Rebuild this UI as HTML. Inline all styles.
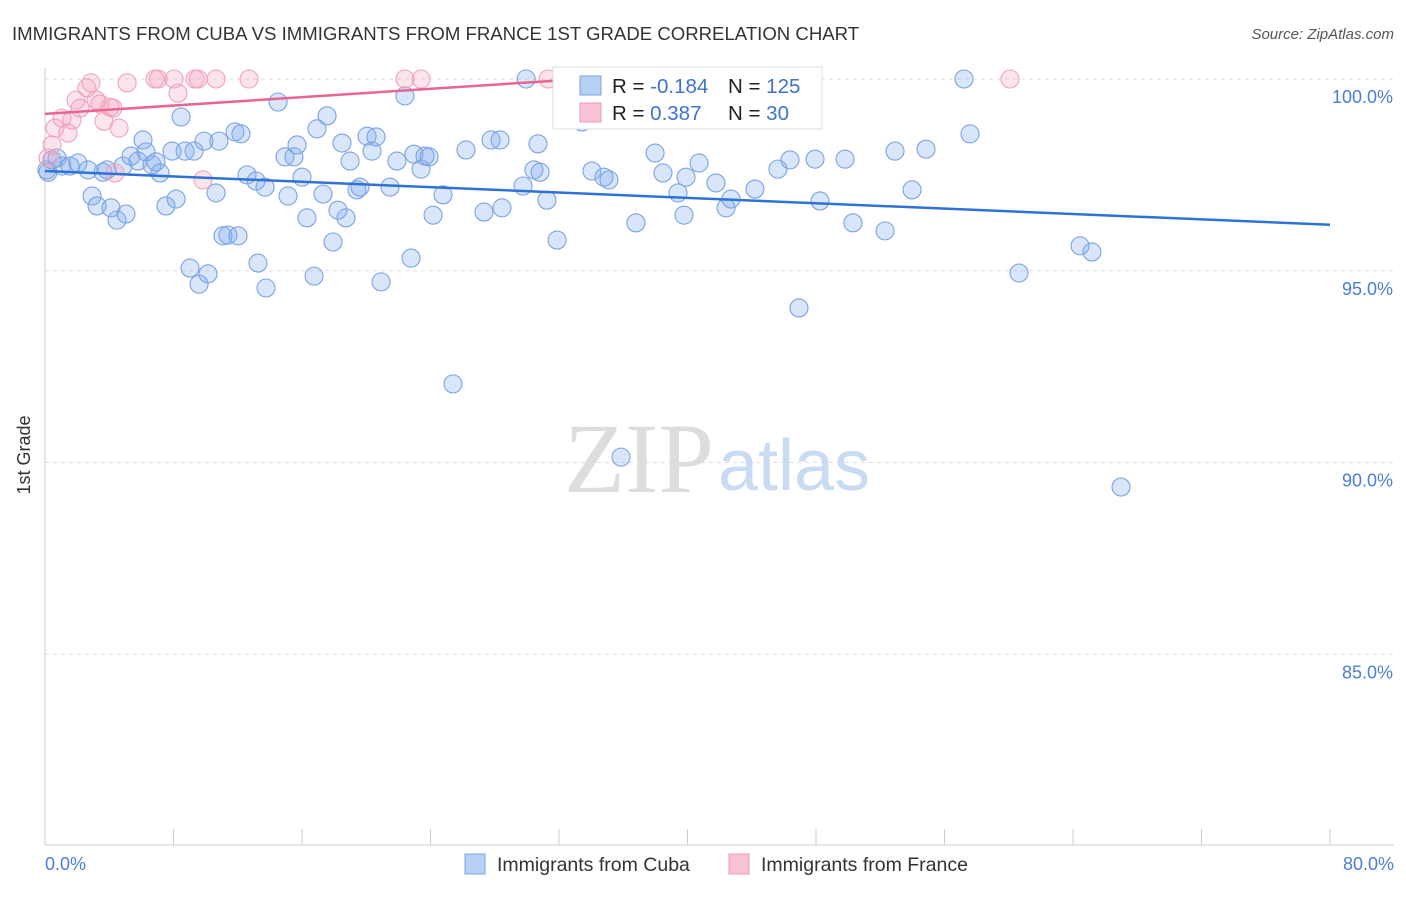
<!DOCTYPE html>
<html><head><meta charset="utf-8"><style>
body{margin:0;background:#fff;font-family:"Liberation Sans",sans-serif;}
svg text{font-family:"Liberation Sans",sans-serif;}
svg text.serif{font-family:"Liberation Serif",serif;}
</style></head><body>
<svg width="1406" height="892">
<text x="12" y="40" font-size="18.6" fill="#333">IMMIGRANTS FROM CUBA VS IMMIGRANTS FROM FRANCE 1ST GRADE CORRELATION CHART</text>
<text x="1394" y="39" font-size="15" fill="#555" text-anchor="end" font-style="italic">Source: ZipAtlas.com</text>
<g id="grid"></g>
<text class="serif" x="714" y="492" font-size="100" fill="#ddd" text-anchor="end">ZIP</text>
<text x="718" y="490" font-size="72" fill="#c9dbf2">atlas</text>
<g id="pts"></g>
<g id="lines"></g>
<text x="30" y="455" font-size="18" fill="#333" transform="rotate(-90 30 455)" text-anchor="middle">1st Grade</text>
<text x="45" y="870" font-size="18" fill="#4a7fd4">0.0%</text>
<text x="1394" y="870" font-size="18" fill="#4a7fd4" text-anchor="end">80.0%</text>
<g>
<rect x="553" y="67" width="269" height="62" fill="#fff" stroke="#ddd"/>
<rect x="580" y="76" width="21" height="19" fill="#b7cff2" stroke="#7aa3e0"/>
<rect x="580" y="103" width="21" height="19" fill="#f8c2d2" stroke="#ec9ab5"/>
<text x="612" y="93" font-size="20.5" fill="#222">R = <tspan fill="#3c73cf">-0.184</tspan></text>
<text x="728" y="93" font-size="20.5" fill="#222">N = <tspan fill="#3c73cf">125</tspan></text>
<text x="612" y="120" font-size="20.5" fill="#222">R = <tspan fill="#3c73cf"> 0.387</tspan></text>
<text x="728" y="120" font-size="20.5" fill="#222">N = <tspan fill="#3c73cf"> 30</tspan></text>
</g>
<g><rect x="465" y="854" width="20" height="20" fill="#b7cff2" stroke="#7aa3e0"/><text x="497" y="871" font-size="19.5" fill="#333">Immigrants from Cuba</text></g>
<g><rect x="729" y="854" width="20" height="20" fill="#f8c2d2" stroke="#ec9ab5"/><text x="761" y="871" font-size="19.5" fill="#333">Immigrants from France</text></g>
</svg>
<script>
const yTicks=[100,95,90,85];
const xTickVals=[0,8,16,24,32,40,48,56,64,72,80];
const cubaPx=[[48,172],[47,170],[52,160],[57,158],[62,166],[70,166],[78,163],[88,170],[92,196],[97,206],[103,172],[107,170],[111,208],[117,220],[123,166],[126,214],[131,156],[138,161],[143,140],[146,152],[152,165],[156,162],[160,173],[166,206],[172,151],[176,199],[181,117],[185,151],[190,268],[194,151],[199,284],[204,141],[208,274],[216,193],[219,141],[223,236],[228,235],[235,132],[238,236],[241,134],[247,175],[256,181],[258,263],[265,187],[266,288],[278,102],[285,157],[288,196],[294,157],[297,145],[302,177],[307,218],[314,276],[317,129],[323,194],[327,116],[333,242],[338,210],[342,143],[346,218],[350,161],[357,190],[360,187],[367,136],[372,151],[376,137],[381,282],[390,187],[397,161],[405,96],[411,258],[414,154],[421,169],[425,156],[429,157],[433,215],[443,195],[453,384],[466,150],[484,212],[491,140],[500,140],[502,208],[523,186],[526,79],[534,170],[538,144],[540,172],[547,200],[557,240],[582,122],[592,171],[604,177],[609,180],[621,457],[628,79],[636,223],[655,153],[663,173],[678,193],[684,215],[686,177],[699,163],[716,183],[726,208],[731,199],[755,189],[778,169],[790,160],[799,308],[815,159],[820,201],[845,159],[853,223],[885,231],[895,151],[912,190],[926,149],[964,79],[970,134],[1019,273],[1080,246],[1092,252],[1121,487]];
const francePx=[[48,158],[52,145],[55,128],[62,118],[68,133],[72,120],[76,100],[80,108],[87,88],[91,83],[96,100],[100,104],[104,121],[110,107],[113,108],[119,128],[115,173],[127,83],[155,79],[158,79],[174,79],[178,93],[195,79],[198,79],[203,180],[216,79],[249,79],[405,79],[421,79],[548,79],[1010,79]];
const cubaX=cubaPx.map(p=>+((p[0]-45)/1285*80).toFixed(2));
const cubaY=cubaPx.map(p=>+(100-(p[1]-79)/38.35).toFixed(2));
const franceX=francePx.map(p=>+((p[0]-45)/1285*80).toFixed(2));
const franceY=francePx.map(p=>+(100-(p[1]-79)/38.35).toFixed(2));
const cubaTrend=[97.6,96.2];
const franceTrend=[99.09,100,33.4];
const X=v=>45+v/80*1285, Y=v=>79+(100-v)*38.35;
const NS='http://www.w3.org/2000/svg';
function mk(t,a,par){const e=document.createElementNS(NS,t);for(const k in a)e.setAttribute(k,a[k]);document.getElementById(par).appendChild(e);return e;}
yTicks.forEach(v=>{const l=mk('line',{x1:45,x2:1394,y1:Y(v),y2:Y(v),stroke:'#ddd','stroke-dasharray':'4 4'},'grid');


const t=mk('text',{x:1393,y:Y(v)+24,'font-size':18,fill:'#4a7fd4','text-anchor':'end'},'grid');t.textContent=v.toFixed(1)+'%';

});
const ax=mk('line',{x1:45,x2:45,y1:68,y2:845,stroke:'#ccc'},'grid');


const bx=mk('line',{x1:45,x2:1394,y1:845,y2:845,stroke:'#ccc'},'grid');


xTickVals.forEach(v=>{const l=mk('line',{x1:X(v),x2:X(v),y1:829,y2:845,stroke:'#ccc'},'grid');

});
cubaX.forEach((x,i)=>{const c=mk('circle',{cx:X(x),cy:Y(cubaY[i]),r:9,fill:'rgba(130,172,238,0.3)',stroke:'#7aa3e2','stroke-width':1.1},'pts');

});
franceX.forEach((x,i)=>{const c=mk('circle',{cx:X(x),cy:Y(franceY[i]),r:9,fill:'rgba(245,165,190,0.3)',stroke:'#efa3bc','stroke-width':1.1},'pts');

});
const l1=mk('line',{x1:X(0),y1:Y(cubaTrend[0]),x2:X(80),y2:Y(cubaTrend[1]),stroke:'#2f72d6','stroke-width':2.5},'lines');


const l2=mk('line',{x1:X(0),y1:Y(franceTrend[0]),x2:X(franceTrend[2]),y2:Y(franceTrend[1]),stroke:'#e8658f','stroke-width':2.5},'lines');


</script>
</body></html>
